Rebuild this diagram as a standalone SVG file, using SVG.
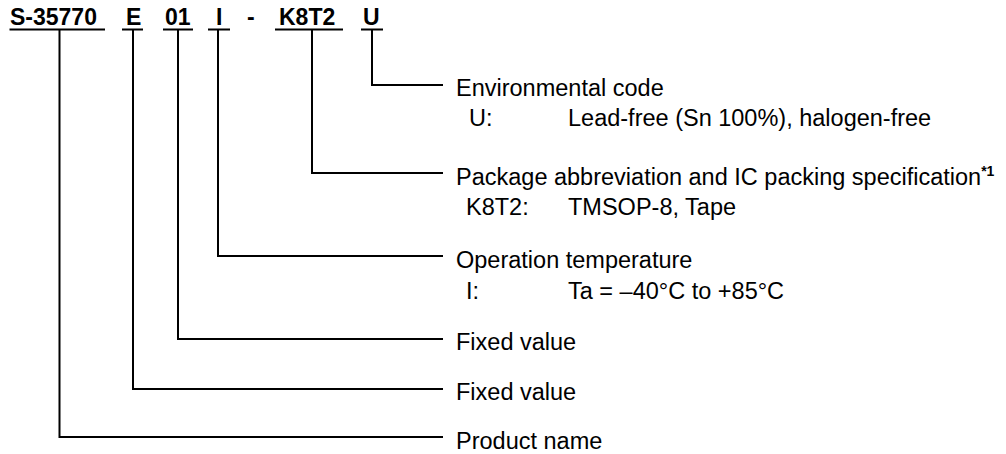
<svg xmlns="http://www.w3.org/2000/svg" width="1006" height="454" viewBox="0 0 1006 454">
<style>
.t{font-family:"Liberation Sans",Arial,sans-serif;font-size:23.5px;fill:#000}
.h{font-family:"Liberation Sans",Arial,sans-serif;font-size:23px;font-weight:bold;fill:#000}
.ln{stroke:#000;stroke-width:2;fill:none}
.sup{font-weight:bold;font-size:14px}
</style>
<rect width="1006" height="454" fill="#fff"/>
<g id="title">
<text class="h" x="10" y="25">S-35770</text>
<text class="h" x="126" y="25">E</text>
<text class="h" x="165" y="25">01</text>
<text class="h" x="216" y="25">I</text>
<text class="h" x="247" y="25">-</text>
<text class="h" x="279" y="25">K8T2</text>
<text class="h" x="363" y="25">U</text>
<path class="ln" d="M9.5 29.5H105M122 29.5H143M163 29.5H193M208 29.5H230M275 29.5H343M361 29.5H383"/>
</g>
<g id="connectors">
<path class="ln" d="M372 29.5V85H443"/>
<path class="ln" d="M312 29.5V173H443"/>
<path class="ln" d="M218 29.5V256H443"/>
<path class="ln" d="M178 29.5V339H443"/>
<path class="ln" d="M133 29.5V389H443"/>
<path class="ln" d="M59.5 29.5V437H443"/>
</g>
<g id="env">
<text class="t" x="456" y="96">Environmental code</text>
<text class="t" x="469" y="126">U:</text>
<text class="t" x="568" y="126">Lead-free (Sn 100%), halogen-free</text>
</g>
<g id="pkg">
<text class="t" x="456" y="185">Package abbreviation and IC packing specification<tspan class="sup" dy="-9">*1</tspan></text>
<text class="t" x="466" y="215">K8T2:</text>
<text class="t" x="568" y="215">TMSOP-8, Tape</text>
</g>
<g id="temp">
<text class="t" x="456" y="268">Operation temperature</text>
<text class="t" x="466" y="299">I:</text>
<text class="t" x="568" y="299">Ta = –40°C to +85°C</text>
</g>
<g id="fixed1"><text class="t" x="456" y="350">Fixed value</text></g>
<g id="fixed2"><text class="t" x="456" y="400">Fixed value</text></g>
<g id="product"><text class="t" x="456" y="449">Product name</text></g>
</svg>
